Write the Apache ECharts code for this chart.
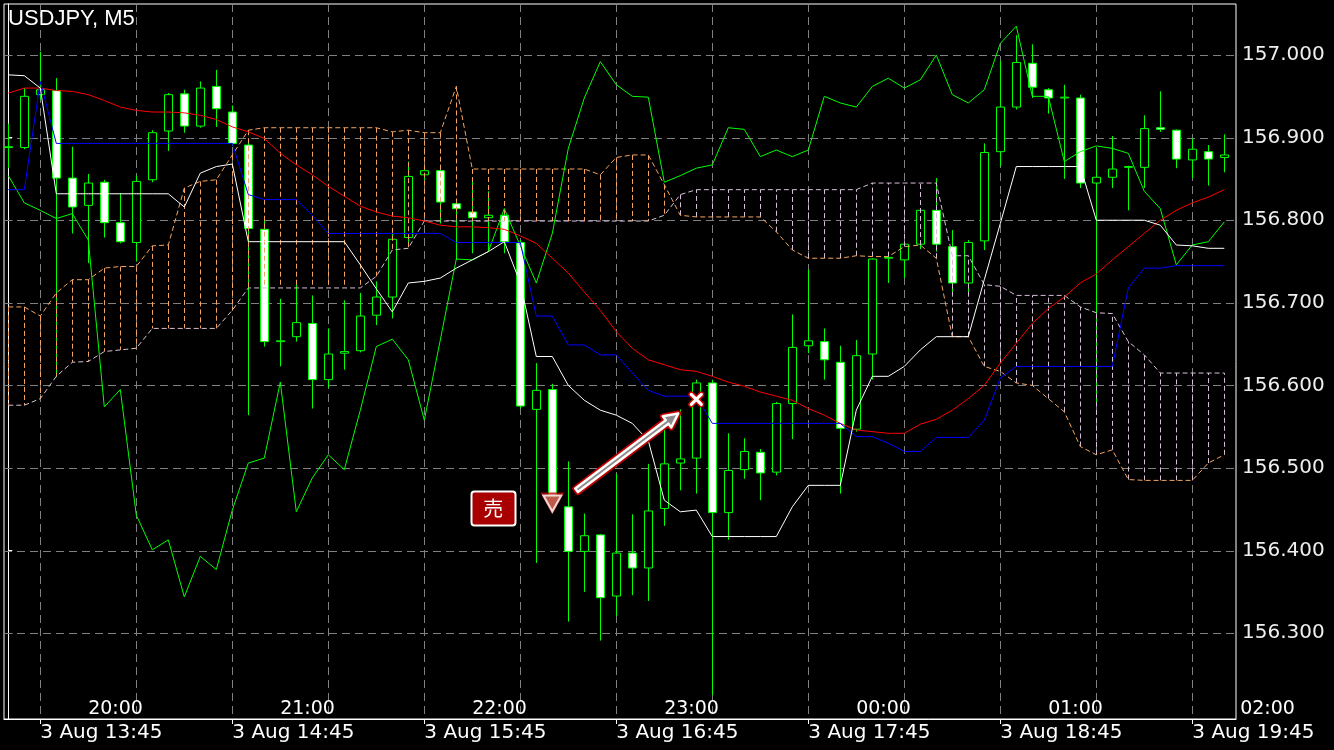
<!DOCTYPE html>
<html><head><meta charset="utf-8">
<script src="https://cdn.jsdelivr.net/npm/echarts@6/dist/echarts.min.js"></script>
<style>html,body{margin:0;padding:0;background:#000;}#c{width:1334px;height:750px;}</style>
</head><body><div id="c"></div>
<script>
const symbolTitle = 'USDJPY, M5';

const openP = [156.888,156.888,156.952,156.957,156.851,156.818,156.846,156.797,156.773,156.849,
156.908,156.953,156.914,156.962,156.931,156.891,156.789,156.653,156.659,156.675,
156.607,156.639,156.642,156.685,156.707,156.779,156.855,156.860,156.820,156.810,
156.803,156.806,156.773,156.571,156.595,156.453,156.399,156.419,156.345,156.397,
156.379,156.451,156.506,156.512,156.603,156.446,156.498,156.519,156.495,156.578,
156.648,156.653,156.628,156.547,156.638,156.754,156.752,156.771,156.812,156.768,
156.724,156.775,156.883,156.937,156.990,156.958,156.948,156.948,156.845,156.852,
156.864,156.864,156.912,156.909,156.873,156.883,156.876];
const closeP = [156.889,156.950,156.958,156.851,156.816,156.845,156.797,156.774,156.847,156.906,
156.952,156.914,156.960,156.935,156.893,156.790,156.653,156.654,156.676,156.607,
156.638,156.641,156.684,156.707,156.777,156.853,156.860,156.822,156.814,156.803,
156.806,156.774,156.575,156.594,156.465,156.399,156.418,156.343,156.397,156.379,
156.448,156.505,156.511,156.603,156.446,156.497,156.520,156.494,156.578,156.646,
156.654,156.631,156.548,156.636,156.753,156.755,156.771,156.812,156.771,156.724,
156.773,156.882,156.937,156.991,156.961,156.948,156.949,156.845,156.852,156.862,
156.865,156.911,156.910,156.874,156.886,156.874,156.879];
const lowP = [156.863,156.886,156.946,156.610,156.784,156.748,156.779,156.772,156.750,156.846,
156.884,156.906,156.912,156.913,156.890,156.564,156.647,156.623,156.653,156.572,
156.597,156.619,156.640,156.673,156.681,156.770,156.849,156.796,156.752,156.760,
156.762,156.760,156.572,156.385,156.463,156.314,156.350,156.291,156.321,156.346,
156.339,156.430,156.473,156.469,156.225,156.413,156.487,156.461,156.491,156.535,
156.639,156.607,156.469,156.544,156.607,156.724,156.730,156.765,156.762,156.712,
156.712,156.764,156.865,156.934,156.948,156.929,156.850,156.839,156.579,156.839,
156.812,156.839,156.907,156.863,156.851,156.842,156.858];
const highP = [156.917,156.960,157.004,156.972,156.889,156.856,156.849,156.833,156.854,156.909,
156.954,156.958,156.968,156.982,156.939,156.897,156.800,156.705,156.724,156.709,
156.669,156.703,156.712,156.726,156.784,156.871,156.867,156.867,156.824,156.851,
156.835,156.814,156.776,156.627,156.602,156.508,156.445,156.420,156.493,156.444,
156.505,156.548,156.571,156.607,156.607,156.542,156.536,156.523,156.580,156.686,
156.740,156.669,156.648,156.655,156.754,156.757,156.772,156.814,156.851,156.788,
156.776,156.893,156.993,157.024,157.013,156.960,156.964,156.952,156.887,156.902,
156.866,156.927,156.956,156.910,156.899,156.891,156.904];

const redLine = [156.954,156.960,156.960,156.957,156.956,156.952,156.945,156.937,156.933,156.931,
156.931,156.930,156.927,156.922,156.913,156.907,156.899,156.881,156.867,156.855,
156.841,156.829,156.817,156.810,156.805,156.803,156.799,156.794,156.792,156.792,
156.791,156.789,156.781,156.772,156.754,156.736,156.713,156.691,156.665,156.645,
156.631,156.625,156.619,156.617,156.611,156.604,156.599,156.592,156.587,156.582,
156.572,156.564,156.554,156.546,156.544,156.542,156.542,156.553,156.559,156.570,
156.584,156.600,156.627,156.651,156.675,156.693,156.707,156.724,156.735,156.752,
156.768,156.784,156.800,156.812,156.821,156.828,156.837];
const blueLine = [156.837,156.837,156.968,156.893,156.893,156.893,156.893,156.893,156.893,156.893,
156.893,156.893,156.893,156.893,156.893,156.831,156.825,156.825,156.825,156.806,
156.784,156.784,156.784,156.784,156.784,156.784,156.784,156.784,156.773,156.773,
156.773,156.773,156.773,156.684,156.684,156.649,156.649,156.637,156.637,156.615,
156.594,156.587,156.587,156.587,156.554,156.554,156.554,156.554,156.554,156.554,
156.554,156.554,156.554,156.538,156.538,156.530,156.520,156.520,156.537,156.537,
156.537,156.558,156.609,156.623,156.623,156.623,156.623,156.623,156.623,156.623,
156.718,156.742,156.742,156.745,156.745,156.745,156.745];
const whiteLine = [156.976,156.975,156.960,156.832,156.832,156.832,156.832,156.832,156.832,156.832,
156.832,156.816,156.857,156.865,156.868,156.774,156.774,156.774,156.774,156.774,
156.774,156.774,156.746,156.717,156.689,156.724,156.726,156.730,156.742,156.752,
156.762,156.774,156.724,156.635,156.635,156.600,156.582,156.570,156.564,156.554,
156.533,156.461,156.447,156.449,156.417,156.417,156.417,156.417,156.417,156.453,
156.479,156.479,156.479,156.570,156.611,156.611,156.623,156.643,156.659,156.659,
156.659,156.728,156.796,156.865,156.865,156.865,156.865,156.865,156.800,156.800,
156.800,156.800,156.794,156.770,156.769,156.766,156.766];
const greenLine = [156.854,156.821,156.812,156.802,156.808,156.776,156.574,156.595,156.443,156.401,
156.413,156.344,156.393,156.377,156.449,156.506,156.512,156.604,156.447,156.488,
156.516,156.498,156.570,156.647,156.656,156.631,156.558,156.655,156.753,156.752,
156.762,156.814,156.769,156.724,156.784,156.887,156.948,156.992,156.964,156.950,
156.949,156.846,156.854,156.863,156.867,156.912,156.910,156.877,156.885,156.877,
156.885,156.950,156.942,156.937,156.962,156.972,156.960,156.970,157.000,156.952,
156.942,156.958,157.014,157.035,156.950,156.950,156.871,156.883,156.890,156.887,
156.881,156.835,156.814,156.746,156.770,156.774,156.798];
const spanA = [156.695,156.695,156.684,156.712,156.728,156.728,156.742,156.744,156.744,156.769,
156.770,156.839,156.847,156.849,156.879,156.909,156.912,156.912,156.912,156.912,
156.912,156.912,156.912,156.912,156.907,156.909,156.906,156.906,156.962,156.862,
156.862,156.862,156.862,156.862,156.862,156.862,156.862,156.855,156.876,156.879,
156.879,156.843,156.806,156.804,156.804,156.804,156.804,156.804,156.786,156.764,
156.754,156.754,156.754,156.757,156.756,156.756,156.768,156.770,156.754,156.659,
156.659,156.623,156.617,156.603,156.600,156.584,156.568,156.526,156.516,156.522,
156.486,156.485,156.485,156.485,156.485,156.506,156.516];
const spanB = [156.576,156.576,156.584,156.611,156.628,156.629,156.641,156.643,156.645,156.669,
156.669,156.669,156.669,156.669,156.691,156.718,156.718,156.718,156.718,156.718,
156.718,156.718,156.718,156.732,156.764,156.766,156.799,156.799,156.799,156.799,
156.799,156.799,156.799,156.799,156.799,156.799,156.799,156.799,156.799,156.799,
156.799,156.806,156.831,156.837,156.837,156.837,156.837,156.837,156.837,156.837,
156.837,156.837,156.837,156.837,156.845,156.845,156.845,156.845,156.845,156.757,
156.757,156.722,156.720,156.709,156.709,156.709,156.709,156.695,156.688,156.687,
156.653,156.637,156.615,156.615,156.615,156.615,156.615];

const priceTicks = [156.3,156.4,156.5,156.6,156.7,156.8,156.9,157.0];
const gridTimeIdx = [2,8,14,20,26,32,38,44,50,56,62,68,74];
const dateLabelIdx = [2,14,26,38,50,62,74];
const dateLabels = ['3 Aug 13:45','3 Aug 14:45','3 Aug 15:45','3 Aug 16:45','3 Aug 17:45','3 Aug 18:45','3 Aug 19:45'];
const hourLabelIdx = [6.7,18.7,30.7,42.7,54.7,66.7,78.7];
const hourLabels = ['20:00','21:00','22:00','23:00','00:00','01:00','02:00'];

const sellBadge = {text:'売', idx:30.31, price:156.452};
const entryMark = {idx:34, price:156.457};
const exitMark = {idx:43, price:156.583};
const tradeArrow = [35.52, 156.473, 41.87, 156.566];

const X_MIN = -0.269, X_MAX = 76.731, Y_MIN = 156.1961, Y_MAX = 157.0618;
const ORANGE = '#f4a460', THISTLE = '#d8bfd8', LIME = '#00ff00';

const chart = echarts.init(document.getElementById('c'), null, {renderer:'canvas', width:1334, height:750});
const pairs = arr => arr.map((v,i)=>[i,v]);
const candleData = openP.map((o,i)=>[i,o,closeP[i],lowP[i],highP[i]]);

function lineSeries(arr, color, z, dash){
  return {type:'line', data:pairs(arr), showSymbol:false, symbol:'none', silent:true, z:z,
    lineStyle:{color:color, width:1, type: dash || 'solid'}, animation:false};
}

const option = {
  backgroundColor:'#000',
  animation:false,
  grid:{left:4, right:98, top:4, bottom:31, show:true, borderColor:'#fff', borderWidth:1, backgroundColor:'#000'},
  graphic:[{type:'text', left:8, top:8, style:{text:symbolTitle, fill:'#fff', font:'22px "Liberation Sans"'}}],
  xAxis:{type:'value', min:X_MIN, max:X_MAX,
    axisLine:{show:true, lineStyle:{color:'#fff', width:1}},
    axisTick:{show:true, customValues:dateLabelIdx, length:5, lineStyle:{color:'#fff'}},
    axisLabel:{show:true, customValues:dateLabelIdx, align:'left', margin:4, color:'#fff', fontSize:20, fontFamily:'DejaVu Sans',
      formatter:(v)=>dateLabels[dateLabelIdx.indexOf(Math.round(v))]},
    splitLine:{show:false}},
  yAxis:{type:'value', position:'right', min:Y_MIN, max:Y_MAX, scale:true,
    axisLine:{show:true, lineStyle:{color:'#fff', width:1}},
    axisTick:{show:true, customValues:priceTicks, length:4, lineStyle:{color:'#fff'}},
    axisLabel:{show:true, customValues:priceTicks, margin:6, color:'#eeeeee', fontSize:20, fontFamily:'DejaVu Sans',
      formatter:(v)=>v.toFixed(3)},
    splitLine:{show:false}},
  series:[
    {type:'custom', z:1, silent:true, data:priceTicks.map(v=>[0,v]), encode:{x:0,y:1},
      renderItem(params, api){
        const cs = params.coordSys; const y = Math.round(api.coord([0, api.value(1)])[1]) + 0.5;
        return {type:'line', shape:{x1:cs.x, y1:y, x2:cs.x+cs.width, y2:y}, style:{stroke:'#808080', lineWidth:1, lineDash:[8,5]}};
      }},
    {type:'custom', z:1, silent:true, data:gridTimeIdx.map(v=>[v,156.5]), encode:{x:0,y:1},
      renderItem(params, api){
        const cs = params.coordSys; const x = Math.round(api.coord([api.value(0), 156.5])[0]) + 0.5;
        return {type:'line', shape:{x1:x, y1:cs.y, x2:x, y2:cs.y+cs.height}, style:{stroke:'#808080', lineWidth:1, lineDash:[8,5]}};
      }},
    {type:'custom', z:1, silent:true, data:hourLabelIdx.map(v=>[v,156.5]), encode:{x:0,y:1}, clip:false,
      renderItem(params, api){
        const cs = params.coordSys; const x = api.coord([api.value(0), 156.5])[0];
        return {type:'text', style:{text:hourLabels[params.dataIndex], x:x, y:cs.y+cs.height-10, align:'center', verticalAlign:'middle', fill:'#fff', font:'19px "DejaVu Sans"'}};
      }},
    {type:'candlestick', data:candleData, barWidth:8, z:2, silent:true,
      itemStyle:{color:'#000', color0:'#fff', borderColor:LIME, borderColor0:LIME, borderColorDoji:LIME, borderWidth:1}},
    {type:'custom', z:3, silent:true, data:spanA.map((a,i)=>[i,a,spanB[i]]), encode:{x:0,y:[1,2]},
      renderItem(params, api){
        const a = api.value(1), b = api.value(2);
        const p1 = api.coord([api.value(0), a]), p2 = api.coord([api.value(0), b]);
        const x = Math.round(p1[0]) + 0.5;
        return {type:'line', shape:{x1:x, y1:p1[1], x2:x, y2:p2[1]}, style:{stroke: a>=b?ORANGE:THISTLE, lineWidth:1, lineDash:[5,3]}};
      }},
    lineSeries(spanA, ORANGE, 3, [5,3]),
    lineSeries(spanB, THISTLE, 3, [5,3]),
    lineSeries(greenLine, LIME, 4),
    lineSeries(redLine, '#ff0000', 4),
    lineSeries(blueLine, '#0000ff', 4),
    lineSeries(whiteLine, '#ffffff', 4),
    {type:'custom', z:6, silent:true, data:[tradeArrow], encode:{x:[0,2], y:[1,3]},
      renderItem(params, api){
        const p1 = api.coord([api.value(0), api.value(1)]), p2 = api.coord([api.value(2), api.value(3)]);
        const dx = p2[0]-p1[0], dy = p2[1]-p1[1], L = Math.hypot(dx,dy);
        const ux = dx/L, uy = dy/L, nx = -uy, ny = ux;
        const w = 2.2, hw = 7, hl = 14;
        const bx = p2[0]-ux*hl, by = p2[1]-uy*hl;
        const pts = [[p1[0]+nx*w, p1[1]+ny*w],[bx+nx*w, by+ny*w],[bx+nx*hw, by+ny*hw],[p2[0],p2[1]],
          [bx-nx*hw, by-ny*hw],[bx-nx*w, by-ny*w],[p1[0]-nx*w, p1[1]-ny*w]];
        return {type:'group', children:[
          {type:'polygon', shape:{points:pts}, style:{fill:'#c00000', stroke:'#c00000', lineWidth:6, lineJoin:'round'}},
          {type:'polygon', shape:{points:pts}, style:{fill:'#8c8c8c', stroke:'#ffffff', lineWidth:2.5, lineJoin:'round'}}
        ]};
      }},
    {type:'scatter', z:6, silent:true, data:[[entryMark.idx, entryMark.price]], symbol:'triangle', symbolRotate:180, symbolSize:[24,22],
      itemStyle:{color:'#c00000'}},
    {type:'scatter', z:7, silent:true, data:[[entryMark.idx, entryMark.price]], symbol:'triangle', symbolRotate:180, symbolSize:[18,16],
      itemStyle:{color:'#c8705e', borderColor:'#fff', borderWidth:2}},
    {type:'custom', z:7, silent:true, data:[[exitMark.idx, exitMark.price]], encode:{x:0,y:1},
      renderItem(params, api){
        const p = api.coord([api.value(0), api.value(1)]);
        const s = 5;
        const mk = (stroke, lw) => [
          {type:'line', shape:{x1:p[0]-s, y1:p[1]-s, x2:p[0]+s, y2:p[1]+s}, style:{stroke:stroke, lineWidth:lw, lineCap:'round'}},
          {type:'line', shape:{x1:p[0]-s, y1:p[1]+s, x2:p[0]+s, y2:p[1]-s}, style:{stroke:stroke, lineWidth:lw, lineCap:'round'}}
        ];
        return {type:'group', children: mk('#d00000', 6).concat(mk('#ffffff', 3.2))};
      }},
    {type:'custom', z:7, silent:true, data:[[sellBadge.idx, sellBadge.price]], encode:{x:0,y:1},
      renderItem(params, api){
        const p = api.coord([api.value(0), api.value(1)]);
        const w = 44, h = 34;
        return {type:'group', children:[
          {type:'rect', shape:{x:Math.round(p[0]-w/2)+0.5, y:Math.round(p[1]-h/2)+0.5, width:w, height:h, r:3},
            style:{fill:'#a80000', stroke:'#ffffff', lineWidth:2}},
          {type:'text', style:{text:sellBadge.text, x:p[0], y:p[1]+1, align:'center', verticalAlign:'middle', fill:'#fff', font:'20px "Noto Sans CJK JP"'}}
        ]};
      }}
  ]
};
chart.setOption(option);
</script>
</body></html>
